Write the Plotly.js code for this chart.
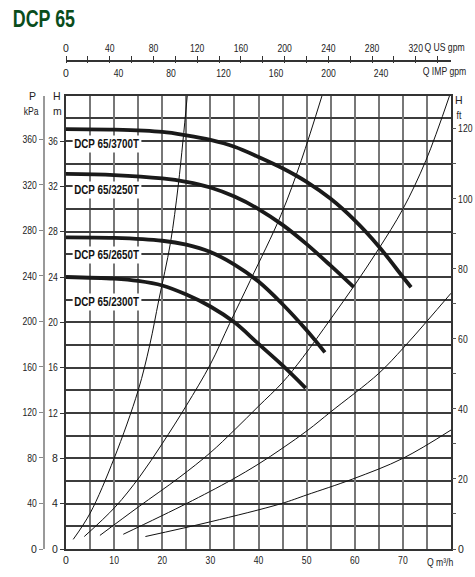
<!DOCTYPE html>
<html>
<head>
<meta charset="utf-8">
<script src="https://cdn.plot.ly/plotly-3.0.1.min.js"></script>
<style>
html,body{margin:0;padding:0;background:#fff;}
#chart{width:475px;height:577px;}
</style>
</head>
<body>
<div id="chart"></div>
<script>
// ---------- DATA ----------
// Pump curves: Q in m3/h, H in m
const q3700 = [0, 10, 20, 25, 30, 35, 40, 45, 50, 55, 60, 65, 70, 71.7];
const h3700 = [37.05, 37.0, 36.8, 36.5, 36.1, 35.5, 34.6, 33.6, 32.4, 30.9, 29.0, 26.7, 24.0, 23.1];

const q3250 = [0, 10, 20, 25, 30, 35, 40, 45, 50, 55, 59.8];
const h3250 = [33.1, 33.0, 32.7, 32.4, 31.9, 31.1, 30.0, 28.6, 26.9, 25.0, 23.1];

const q2650 = [0, 10, 20, 25, 30, 35, 40, 45, 50, 53.8];
const h2650 = [27.5, 27.45, 27.2, 26.85, 26.2, 25.1, 23.6, 21.6, 19.3, 17.35];

const q2300 = [0, 10, 15, 20, 25, 30, 35, 40, 45, 49.8];
const h2300 = [24.0, 23.85, 23.65, 23.25, 22.45, 21.4, 20.0, 18.1, 16.2, 14.2];

// System curves (thin lines)
const qSysA = [1.5, 5, 10, 15, 17.4, 19.3, 21.7, 23.3, 24.3, 25.2];
const hSysA = [0.85, 3.15, 8.0, 14.0, 18.0, 22.0, 27.0, 32.0, 36.0, 40.0];

const qSysB = [3.8, 10.2, 15.35, 20, 25, 30, 34, 38.3, 44.7, 48.9, 53.2];
const hSysB = [1.1, 3.7, 6.4, 9.3, 12.65, 16.3, 19.9, 23.7, 29.5, 34.3, 40.0];

const qSysC = [7.05, 15, 23.5, 30, 35, 40, 45, 49.2, 55, 60, 65, 70, 74.8, 79.7];
const hSysC = [1.2, 3.7, 6.3, 8.5, 10.5, 12.6, 14.7, 16.9, 20.3, 23.3, 26.5, 30.0, 34.3, 40.0];

const qSysD = [11.9, 25, 34.4, 40, 45, 50.3, 55, 65, 70, 75, 80];
const hSysD = [1.3, 4.0, 6.1, 7.5, 8.9, 10.5, 12.1, 15.5, 17.7, 20.1, 22.57];

const qSysE = [16.5, 30, 44.7, 50, 59.6, 70, 80];
const hSysE = [1.1, 2.4, 4.0, 4.77, 6.18, 8.0, 10.5];

const pumpNames = ["DCP 65/3700T", "DCP 65/3250T", "DCP 65/2650T", "DCP 65/2300T"];

// Tick labels
const qTicks = [0, 10, 20, 30, 40, 50, 60, 70];
const hTicks = [0, 4, 8, 12, 16, 20, 24, 28, 32, 36];
const kpaTicks = [0, 40, 80, 120, 160, 200, 240, 280, 320, 360];
const ftTicks = [0, 20, 40, 60, 80, 100, 120];
const usTicks = [0, 40, 80, 120, 160, 200, 240, 280, 320];
const impTicks = [0, 40, 80, 120, 160, 200, 240];

// ---------- LAYOUT HELPERS ----------
const W = 475, H = 577;
const M = {l: 6, r: 4, t: 40, b: 28};
const PW = W - M.l - M.r, PH = H - M.t - M.b;
const px = x => (x - M.l) / PW;
const py = y => (H - M.b - y) / PH;

const QMAX = 80, HMAX = 40;
const US_PER_M3H = 4.40287, IMP_PER_M3H = 3.66619;
const KPA_PER_M = 9.96, FT_PER_M = 1 / 0.309;

const FONT = '"Liberation Sans", Arial, sans-serif';
const tickFont = {family: FONT, size: 10.5, color: '#222'};

const xDomain = [px(66), px(451)];
const yDomain = [0, py(95.7)];
const topAxisPos = py(60.3);

function pump(q, h) {
  return {x: q, y: h, type: 'scatter', mode: 'lines', xaxis: 'x', yaxis: 'y',
    line: {color: '#1a1a1a', width: 3.8, shape: 'spline', smoothing: 1},
    hoverinfo: 'skip', showlegend: false};
}
function sys(q, h) {
  return {x: q, y: h, type: 'scatter', mode: 'lines', xaxis: 'x', yaxis: 'y',
    line: {color: '#111', width: 1, shape: 'spline', smoothing: 1},
    hoverinfo: 'skip', showlegend: false};
}
function dummy(xa, ya) {
  return {x: [0], y: [0], xaxis: xa, yaxis: ya, mode: 'markers',
    marker: {opacity: 0}, hoverinfo: 'skip', showlegend: false};
}

const data = [
  sys(qSysA, hSysA), sys(qSysB, hSysB), sys(qSysC, hSysC), sys(qSysD, hSysD), sys(qSysE, hSysE),
  pump(q3700, h3700), pump(q3250, h3250), pump(q2650, h2650), pump(q2300, h2300),
  dummy('x', 'y2'), dummy('x', 'y3'), dummy('x2', 'y'), dummy('x3', 'y'), dummy('x4', 'y')
];

const labelY = [144, 190, 255, 302];
const annotations = pumpNames.map((name, i) => ({
  text: '<b>' + name + '</b>', xref: 'paper', yref: 'paper',
  x: px(107), y: py(labelY[i]), xanchor: 'center', yanchor: 'middle',
  showarrow: false, bgcolor: '#fff', borderpad: 1,
  font: {family: FONT, size: 12, color: '#111'}
}));

function txt(t, x, y) {
  return {text: t, xref: 'paper', yref: 'paper', x: px(x), y: py(y),
    xanchor: 'center', yanchor: 'middle', showarrow: false,
    font: {family: FONT, size: 10.5, color: '#222'}};
}
annotations.push(
  txt('P', 32, 96), txt('kPa', 31, 111),
  txt('H', 57, 96), txt('m', 57, 111),
  txt('H', 459, 100), txt('ft', 459, 115),
  txt('Q US gpm', 444, 47), txt('Q IMP gpm', 444, 71),
  txt('Q m\u00B3/h', 440, 562),
  {text: '<b>DCP 65</b>', xref: 'paper', yref: 'paper', x: px(44), y: py(19),
   xanchor: 'center', yanchor: 'middle', showarrow: false,
   font: {family: FONT, size: 23.5, color: '#0a4d1c'}}
);

const layout = {
  width: W, height: H,
  margin: M,
  paper_bgcolor: '#fff', plot_bgcolor: '#fff',
  showlegend: false,
  font: {family: FONT, size: 10.5, color: '#222'},
  xaxis: {
    domain: xDomain, range: [0, QMAX], anchor: 'y',
    tickmode: 'array', tickvals: qTicks,
    ticks: '', tickfont: tickFont,
    showgrid: true, gridcolor: '#777', gridwidth: 2,
    minor: {dtick: 5, tick0: 0, showgrid: true, gridcolor: '#777', gridwidth: 2, ticks: ''},
    showline: true, linecolor: '#333', linewidth: 2, mirror: true,
    zeroline: false, fixedrange: true
  },
  yaxis: {
    domain: yDomain, range: [0, HMAX], anchor: 'x',
    tickmode: 'array', tickvals: hTicks,
    ticks: 'outside', ticklen: 4, tickcolor: '#333', tickfont: tickFont,
    showgrid: true, gridcolor: '#3c3c3c', gridwidth: 2,
    minor: {dtick: 2, tick0: 0, showgrid: true, gridcolor: '#3c3c3c', gridwidth: 2, ticks: ''},
    showline: true, linecolor: '#333', linewidth: 2, mirror: true,
    zeroline: false, fixedrange: true
  },
  yaxis2: {
    overlaying: 'y', anchor: 'free', position: px(44), side: 'left',
    range: [0, HMAX * KPA_PER_M],
    tickmode: 'array', tickvals: kpaTicks,
    ticks: 'outside', ticklen: 4, tickcolor: '#888', tickfont: tickFont,
    showgrid: false, zeroline: false,
    showline: true, linecolor: '#999', linewidth: 2, fixedrange: true
  },
  yaxis3: {
    overlaying: 'y', anchor: 'x', side: 'right',
    range: [0, HMAX * FT_PER_M],
    tickmode: 'array', tickvals: ftTicks,
    ticks: 'outside', ticklen: 4, tickcolor: '#555', tickfont: tickFont,
    minor: {dtick: 10, tick0: 0, ticks: 'outside', ticklen: 4, tickcolor: '#555', showgrid: false},
    showgrid: false, zeroline: false, showline: false, fixedrange: true
  },
  xaxis2: {
    overlaying: 'x', anchor: 'free', position: topAxisPos, side: 'top',
    range: [0, QMAX * US_PER_M3H],
    tickmode: 'array', tickvals: usTicks,
    ticks: 'outside', ticklen: 4, tickcolor: '#333', tickfont: tickFont,
    minor: {dtick: 20, tick0: 0, ticks: 'outside', ticklen: 4, tickcolor: '#333', showgrid: false},
    showgrid: false, zeroline: false,
    showline: true, linecolor: '#333', linewidth: 1.5, fixedrange: true
  },
  xaxis4: {
    overlaying: 'x', anchor: 'free', position: topAxisPos, side: 'bottom',
    range: [0, QMAX * US_PER_M3H],
    tickmode: 'linear', tick0: 0, dtick: 20,
    ticks: 'outside', ticklen: 2, tickcolor: '#333', showticklabels: false,
    showgrid: false, zeroline: false, showline: false, fixedrange: true
  },
  xaxis3: {
    overlaying: 'x', anchor: 'free', position: topAxisPos, side: 'bottom',
    range: [0, QMAX * IMP_PER_M3H],
    tickmode: 'array', tickvals: impTicks,
    ticks: 'outside', ticklen: 3, tickcolor: 'rgba(0,0,0,0)', tickfont: tickFont,
    showgrid: false, zeroline: false, showline: false, fixedrange: true
  },
  annotations: annotations
};

// Condense the text horizontally to imitate the narrow typeface of the original
function condense(gd) {
  gd.querySelectorAll('svg text').forEach(t => {
    const s = t.textContent;
    if (!s || s.trim().length < 2) return;
    const L = t.getComputedTextLength();
    if (!(L > 0)) return;
    const f = (s === 'DCP 65') ? 0.76 : 0.82;
    t.setAttribute('textLength', (L * f).toFixed(2));
    t.setAttribute('lengthAdjust', 'spacingAndGlyphs');
    const ann = t.closest('.annotation');
    if (ann) {
      const r = ann.querySelector('rect.bg');
      if (r && r.getAttribute('width')) {
        const d = L - L * f;
        const w = parseFloat(r.getAttribute('width'));
        const x = parseFloat(r.getAttribute('x') || 0);
        r.setAttribute('width', (w - d).toFixed(2));
        r.setAttribute('x', (x + d / 2).toFixed(2));
      }
    }
  });
}

Plotly.newPlot('chart', data, layout, {displayModeBar: false, staticPlot: true})
  .then(gd => condense(gd));
</script>
</body>
</html>
